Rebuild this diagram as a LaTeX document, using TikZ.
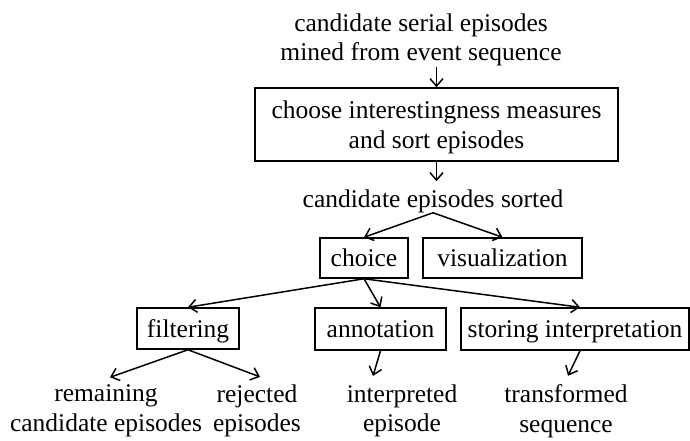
\documentclass[tikz,border=0pt]{standalone}
\usepackage{fontspec}
\setmainfont{Liberation Serif}
\usetikzlibrary{arrows.meta,calc}
\begin{document}
\begin{tikzpicture}[x=1pt,y=-1pt,
  every node/.style={font=\fontsize{25.5}{29.5}\selectfont},
  txt/.style={inner sep=0pt, align=center},
  boxnode/.style={draw, line width=1.5pt, inner sep=0pt, align=center, text depth=0pt},
  conn/.style={line width=1.5pt, -{Straight Barb[length=7.5pt,width=13pt,line width=1.5pt]}}
]
\useasboundingbox (0,0) rectangle (690,440);
% text nodes
\node[txt] (top) at (421,40) {candidate serial episodes\\mined from event sequence};
\node[boxnode, minimum width=363pt, minimum height=73pt] (box1) at (436.5,124.5)
  {choose interestingness measures\\and sort episodes};
\node[txt] (sorted) at (433,201) {candidate episodes sorted};
\node[boxnode, minimum width=88pt, minimum height=40pt] (choice) at (364,258) {choice};
\node[boxnode, minimum width=159pt, minimum height=40pt] (vis) at (502.5,258) {visualization};
\node[boxnode, minimum width=102pt, minimum height=41pt] (filt) at (188,328.5) {filtering};
\node[boxnode, minimum width=131pt, minimum height=42pt] (annot) at (380.5,329) {annotation};
\node[boxnode, minimum width=228pt, minimum height=42pt] (stor) at (575,329) {storing interpretation};
\node[txt] (rem) at (106,411) {remaining\\candidate episodes};
\node[txt] (rej) at (257,411) {rejected\\episodes};
\node[txt] (interp) at (402,411) {interpreted\\episode};
\node[txt] (trans) at (566,411) {transformed\\sequence};
% connectors
\draw[conn] (box1.north |- top.south) -- (box1.north);
\draw[conn] (box1.south) -- ($(box1.south |- sorted.north)+(0,-8)$);
\draw[conn] (sorted.south) -- (choice.north);
\draw[conn] (sorted.south) -- (vis.north);
\draw[conn] (choice.south) -- (filt.north);
\draw[conn] (choice.south) -- (annot.north);
\draw[conn] (choice.south) -- ($(stor.north)+(5,0)$);
\draw[conn] (filt.south) -- ($(rem.north)+(4,-7.6)$);
\draw[conn] (filt.south) -- ($(rej.north)+(3,-7.6)$);
\draw[conn] (annot.south) -- ($(interp.north)+(-29,-8.6)$);
\draw[conn] ($(stor.south)+(5,0)$) -- ($(trans.north)+(2,-8.6)$);
\end{tikzpicture}
\end{document}
